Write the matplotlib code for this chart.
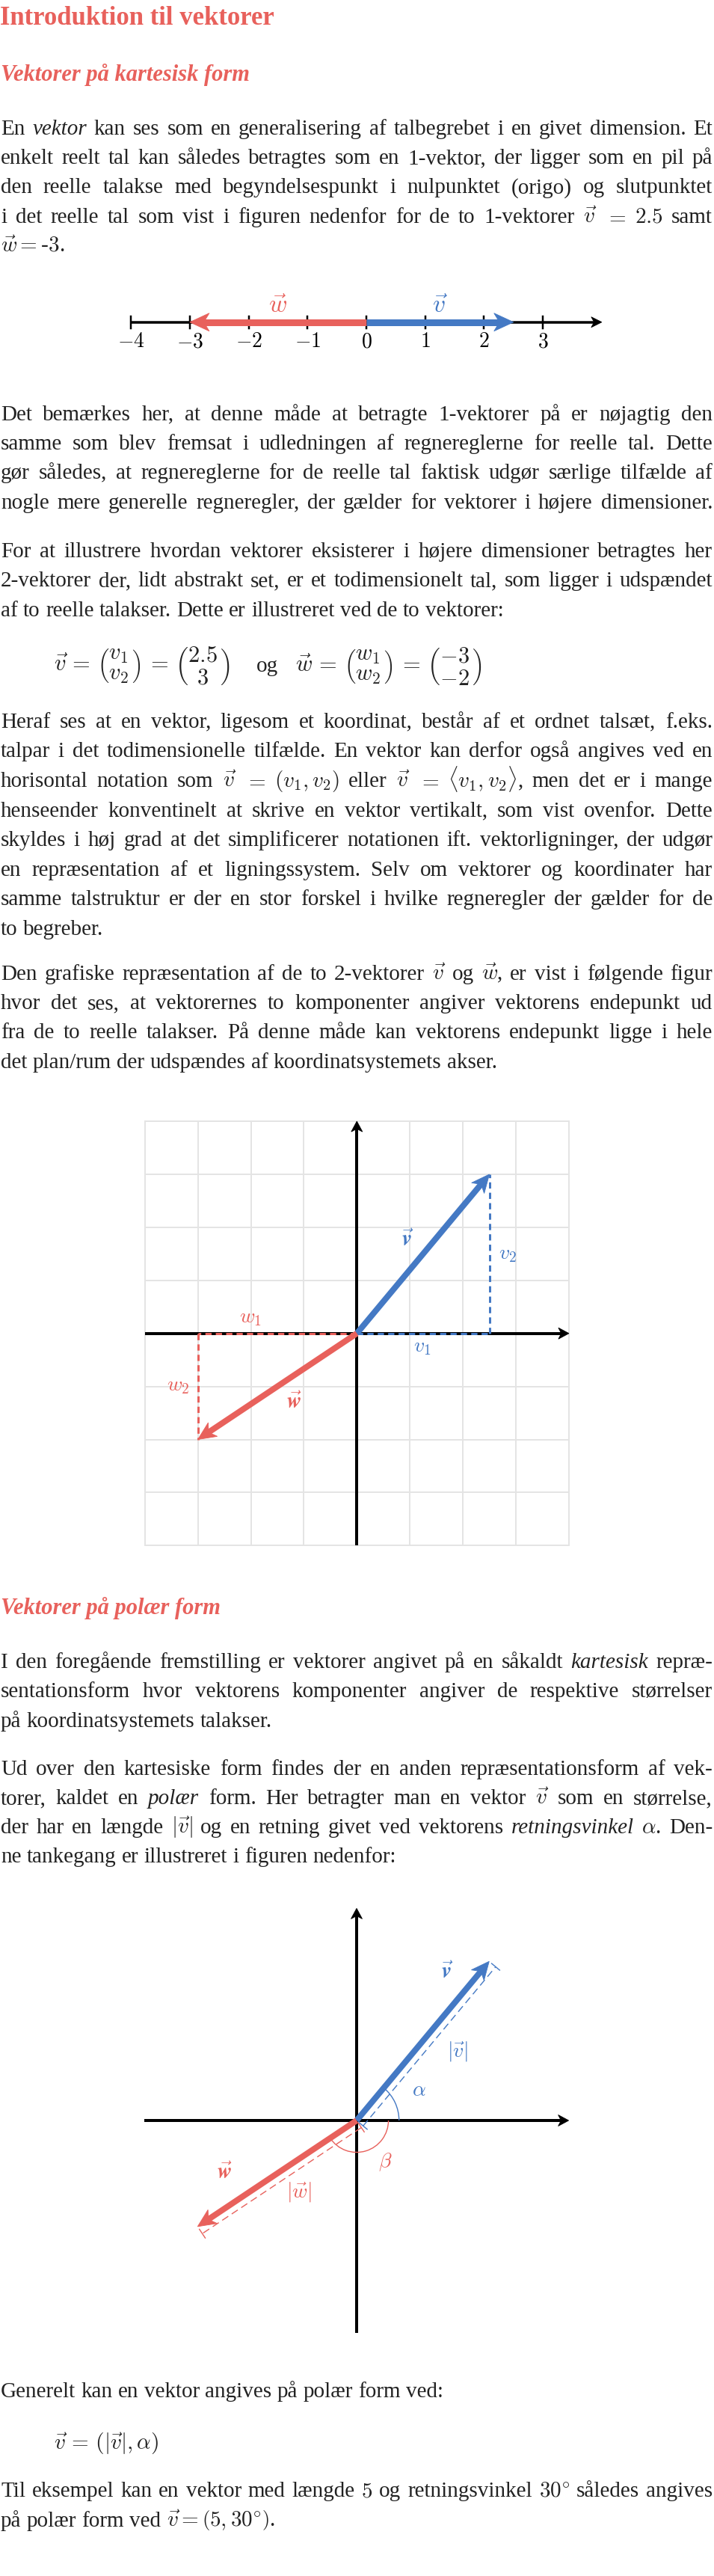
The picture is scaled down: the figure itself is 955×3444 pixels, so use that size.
import io
import re
import numpy as np
import matplotlib
matplotlib.use('Agg')
import matplotlib.pyplot as plt
from matplotlib import mathtext
from matplotlib.patches import Polygon, Arc

plt.rcParams['font.family'] = ['Liberation Serif', 'DejaVu Serif']
plt.rcParams['mathtext.fontset'] = 'cm'
plt.rcParams['lines.scale_dashes'] = False

# data
v_1d = 2.5
w_1d = -3
line_ticks = [-4, -3, -2, -1, 0, 1, 2, 3]
v = [2.5, 3]
w = [-3, -2]
grid_range = list(range(-4, 5))
ex_len = 5
ex_angle = 30

RED = '#E8615C'
BLUE = '#4479C4'
GRID = '#E4E4E4'
TEXT = '#222222'
PT = 0.72  # px -> pt at 100 dpi

W_PX, H_PX = 955, 3444
fig = plt.figure(figsize=(W_PX / 100, H_PX / 100), dpi=100)
page = fig.add_axes([0, 0, 1, 1])
page.set_xlim(0, W_PX)
page.set_ylim(H_PX, 0)
page.axis('off')
renderer = fig.canvas.get_renderer()


def mt_ok(s):
    try:
        mathtext.math_to_image(s, io.BytesIO(), dpi=72, format='png')
        return True
    except Exception:
        return False


if mt_ok(r'$\vec{\mathbfit{v}}$'):
    BV, BW = r'$\vec{\mathbfit{v}}$', r'$\vec{\mathbfit{w}}$'
else:
    BV, BW = r'$\vec{\mathbf{v}}$', r'$\vec{\mathbf{w}}$'

BODY = 21
X0, X1 = 1, 953
LEAD = 39.4


def para(lines, y0, lead=LEAD):
    em = BODY / PT
    space = 0.25 * em
    min_gap = 0.17 * em
    width = X1 - X0
    for i, line in enumerate(lines):
        y = y0 + i * lead
        toks = re.findall(r'(?:\$[^$]*\$|[^\s$])+', line)
        arts, ws = [], []
        for tok in toks:
            style = 'normal'
            if tok.startswith('*') and tok.endswith('*') and len(tok) > 2:
                style = 'italic'
                tok = tok[1:-1]
            t = page.text(X0, y, tok, fontsize=BODY, style=style, color=TEXT,
                          ha='left', va='baseline')
            arts.append(t)
            ws.append(t.get_window_extent(renderer).width)
        n = len(ws)
        if n > 1 and sum(ws) + min_gap * (n - 1) > width:
            f = (width - min_gap * (n - 1)) / sum(ws)
            ws = []
            for t in arts:
                t.set_fontsize(BODY * f)
                ws.append(t.get_window_extent(renderer).width)
        natural = sum(ws) + space * (n - 1)
        last = i == len(lines) - 1
        if n > 1 and (not last or natural > 0.93 * width):
            gap = (width - sum(ws)) / (n - 1)
        else:
            gap = space
        x = X0
        for t, wd in zip(arts, ws):
            t.set_x(x)
            x += wd + gap


def sub_axes(ox, oy, unit, x0, y0, wd, ht):
    ax = fig.add_axes([x0 / W_PX, 1 - (y0 + ht) / H_PX, wd / W_PX, ht / H_PX])
    ax.set_xlim((x0 - ox) / unit, (x0 + wd - ox) / unit)
    ax.set_ylim((oy - (y0 + ht)) / unit, (oy - y0) / unit)
    ax.axis('off')
    return ax


def vec(ax, p0, p1, color, lw_px, hl_px, hw_px, unit, z=4):
    p0 = np.array(p0, float)
    p1 = np.array(p1, float)
    d = p1 - p0
    u = d / np.hypot(*d)
    n = np.array([-u[1], u[0]])
    hl, hw = hl_px / unit, hw_px / unit
    base = p1 - u * hl
    notch = p1 - u * hl * 0.72
    end = p1 - u * hl * 0.6
    ax.plot([p0[0], end[0]], [p0[1], end[1]], color=color, lw=lw_px * PT,
            solid_capstyle='butt', zorder=z)
    ax.add_patch(Polygon([p1, base + n * hw, notch, base - n * hw], closed=True,
                         fc=color, ec=color, lw=0.6, zorder=z))


def dim_line(ax, p, color, off, unit):
    p = np.array(p, float)
    u = p / np.hypot(*p)
    n = np.array([u[1], -u[0]])
    if n[1] > 0:
        n = -n
    a = n * off
    b = p + n * off
    ax.plot([a[0], b[0]], [a[1], b[1]], color=color, lw=1.4 * PT, dashes=(7, 4), zorder=3)
    bar = 7 / unit
    for q in (a, b):
        ax.plot([q[0] - n[0] * bar, q[0] + n[0] * bar], [q[1] - n[1] * bar, q[1] + n[1] * bar],
                color=color, lw=1.4 * PT, zorder=3)


# ---- title / section 1
page.text(0, 33, 'Introduktion til vektorer', fontsize=25, weight='bold', color=RED, va='baseline')
page.text(1, 108, 'Vektorer på kartesisk form', fontsize=22, weight='bold', style='italic',
          color=RED, va='baseline')

para([
    'En *vektor* kan ses som en generalisering af talbegrebet i en givet dimension. Et',
    'enkelt reelt tal kan således betragtes som en 1-vektor, der ligger som en pil på',
    'den reelle talakse med begyndelsespunkt i nulpunktet (origo) og slutpunktet',
    'i det reelle tal som vist i figuren nedenfor for de to 1-vektorer $\\vec{v}$ $=$ $%g$ samt' % v_1d,
    '$\\vec{w}=$-$%g$.' % abs(w_1d),
], 180, 39.2)

# ---- number line
u1 = 78.7
ax1 = sub_axes(490, 430.7, u1, 120, 380, 720, 100)
vec(ax1, (-4, 0), (4, 0), 'black', 3.5, 14, 7, u1, z=2)
for t in line_ticks:
    ax1.plot([t, t], [-8 / u1, 8 / u1], color='black', lw=2.5 * PT, zorder=1)
    ax1.text(t, -27 / u1, '$%d$' % t, fontsize=20, ha='center', va='center', color='black')
vec(ax1, (0, 0), (w_1d, 0), RED, 9, 26, 12, u1)
vec(ax1, (0, 0), (v_1d, 0), BLUE, 9, 26, 12, u1)
ax1.text(w_1d / 2, 21 / u1, r'$\vec{w}$', fontsize=24, color=RED, ha='center', va='center')
ax1.text(v_1d / 2, 21 / u1, r'$\vec{v}$', fontsize=24, color=BLUE, ha='center', va='center')

para([
    'Det bemærkes her, at denne måde at betragte 1-vektorer på er nøjagtig den',
    'samme som blev fremsat i udledningen af regnereglerne for reelle tal. Dette',
    'gør således, at regnereglerne for de reelle tal faktisk udgør særlige tilfælde af',
    'nogle mere generelle regneregler, der gælder for vektorer i højere dimensioner.',
], 561.7)

para([
    'For at illustrere hvordan vektorer eksisterer i højere dimensioner betragtes her',
    '2-vektorer der, lidt abstrakt set, er et todimensionelt tal, som ligger i udspændet',
    'af to reelle talakser. Dette er illustreret ved de to vektorer:',
], 745)

eq_y = 891.5
page.text(72, eq_y, r'$\vec{v}\,=\,\genfrac{(}{)}{0}{0}{v_1}{v_2}\,=\,\genfrac{(}{)}{0}{0}{%g}{%g}$' % (v[0], v[1]),
          fontsize=22, color=TEXT, ha='left', va='center')
page.text(343, eq_y + 7, 'og', fontsize=BODY, color=TEXT, ha='left', va='baseline')
page.text(395, eq_y, r'$\vec{w}\,=\,\genfrac{(}{)}{0}{0}{w_1}{w_2}\,=\,\genfrac{(}{)}{0}{0}{%g}{%g}$' % (w[0], w[1]),
          fontsize=22, color=TEXT, ha='left', va='center')

para([
    'Heraf ses at en vektor, ligesom et koordinat, består af et ordnet talsæt, f.eks.',
    'talpar i det todimensionelle tilfælde. En vektor kan derfor også angives ved en',
    r'horisontal notation som $\vec{v}$ $=$ $(v_1,v_2)$ eller $\vec{v}$ $=$ $\langle v_1,v_2\rangle$, men det er i mange',
    'henseender konventinelt at skrive en vektor vertikalt, som vist ovenfor. Dette',
    'skyldes i høj grad at det simplificerer notationen ift. vektorligninger, der udgør',
    'en repræsentation af et ligningssystem. Selv om vektorer og koordinater har',
    'samme talstruktur er der en stor forskel i hvilke regneregler der gælder for de',
    'to begreber.',
], 972.7, 39.6)

para([
    r'Den grafiske repræsentation af de to 2-vektorer $\vec{v}$ og $\vec{w}$, er vist i følgende figur',
    'hvor det ses, at vektorernes to komponenter angiver vektorens endepunkt ud',
    'fra de to reelle talakser. På denne måde kan vektorens endepunkt ligge i hele',
    'det plan/rum der udspændes af koordinatsystemets akser.',
], 1309.5, 39.5)

# ---- cartesian grid
u2 = 70.9
ax2 = sub_axes(477.3, 1782.7, u2, 170, 1480, 620, 600)
for k in grid_range:
    ax2.plot([k, k], [-4, 4], color=GRID, lw=2 * PT, zorder=1)
    ax2.plot([-4, 4], [k, k], color=GRID, lw=2 * PT, zorder=1)
vec(ax2, (-4, 0), (4, 0), 'black', 4, 14, 7.5, u2, z=2)
vec(ax2, (0, -4), (0, 4), 'black', 4, 14, 7.5, u2, z=2)
ax2.plot([0, v[0]], [0, 0], color=BLUE, lw=3 * PT, dashes=(6, 4), zorder=3)
ax2.plot([v[0], v[0]], [0, v[1]], color=BLUE, lw=3 * PT, dashes=(6, 4), zorder=3)
ax2.plot([0, w[0]], [0, 0], color=RED, lw=3 * PT, dashes=(6, 4), zorder=3)
ax2.plot([w[0], w[0]], [0, w[1]], color=RED, lw=3 * PT, dashes=(6, 4), zorder=3)
vec(ax2, (0, 0), v, BLUE, 8, 24, 11, u2)
vec(ax2, (0, 0), w, RED, 8, 24, 11, u2)
ax2.text(0.95, 1.76, BV, fontsize=21, color=BLUE, ha='center', va='center')
ax2.text(-1.19, -1.30, BW, fontsize=21, color=RED, ha='center', va='center')
ax2.text(1.24, -0.27, '$v_1$', fontsize=20, color=BLUE, ha='center', va='center')
ax2.text(2.84, 1.49, '$v_2$', fontsize=20, color=BLUE, ha='center', va='center')
ax2.text(-2.0, 0.28, '$w_1$', fontsize=20, color=RED, ha='center', va='center')
ax2.text(-3.37, -1.0, '$w_2$', fontsize=20, color=RED, ha='center', va='center')

# ---- section 2
page.text(1, 2158.3, 'Vektorer på polær form', fontsize=22, weight='bold', style='italic',
          color=RED, va='baseline')

para([
    'I den foregående fremstilling er vektorer angivet på en såkaldt *kartesisk* repræ-',
    'sentationsform hvor vektorens komponenter angiver de respektive størrelser',
    'på koordinatsystemets talakser.',
], 2230, 39.3)

para([
    'Ud over den kartesiske form findes der en anden repræsentationsform af vek-',
    r'torer, kaldet en *polær* form. Her betragter man en vektor $\vec{v}$ som en størrelse,',
    r'der har en længde $|\vec{v}|$ og en retning givet ved vektorens *retningsvinkel* $\alpha$. Den-',
    'ne tankegang er illustreret i figuren nedenfor:',
], 2373.3, 39.0)

# ---- polar figure
u3 = 70.9
ax3 = sub_axes(477, 2835, u3, 170, 2530, 620, 600)
vec(ax3, (-4, 0), (4, 0), 'black', 4, 14, 7.5, u3, z=2)
vec(ax3, (0, -4), (0, 4), 'black', 4, 14, 7.5, u3, z=2)
vec(ax3, (0, 0), v, BLUE, 8, 24, 11, u3)
vec(ax3, (0, 0), w, RED, 8, 24, 11, u3)
dim_line(ax3, v, BLUE, 0.16, u3)
dim_line(ax3, w, RED, 0.16, u3)
alpha = np.degrees(np.arctan2(v[1], v[0]))
beta = np.degrees(np.arctan2(w[1], w[0]))
ax3.add_patch(Arc((0, 0), 1.6, 1.6, theta1=0, theta2=alpha, color=BLUE, lw=1.4 * PT, zorder=3))
ax3.add_patch(Arc((0, 0), 1.2, 1.2, theta1=beta, theta2=0, color=RED, lw=1.4 * PT, zorder=3))
ax3.text(1.71, 2.79, BV, fontsize=21, color=BLUE, ha='center', va='center')
ax3.text(-2.49, -0.99, BW, fontsize=21, color=RED, ha='center', va='center')
ax3.text(1.90, 1.30, r'$|\vec{v}|$', fontsize=20, color=BLUE, ha='center', va='center')
ax3.text(-1.08, -1.34, r'$|\vec{w}|$', fontsize=20, color=RED, ha='center', va='center')
ax3.text(1.17, 0.56, r'$\alpha$', fontsize=20, color=BLUE, ha='center', va='center')
ax3.text(0.54, -0.78, r'$\beta$', fontsize=20, color=RED, ha='center', va='center')

para(['Generelt kan en vektor angives på polær form ved:'], 3205)
page.text(72, 3266.7, r'$\vec{v}\,=\,\left(|\vec{v}|,\alpha\right)$', fontsize=BODY, color=TEXT,
          ha='left', va='center')
para([
    'Til eksempel kan en vektor med længde $%d$ og retningsvinkel $%d^{\\circ}$ således angives' % (ex_len, ex_angle),
    'på polær form ved $\\vec{v}=\\left(%d,%d^{\\circ}\\right)$.' % (ex_len, ex_angle),
], 3338.3, 40)

fig.savefig('out.png', dpi=100)
